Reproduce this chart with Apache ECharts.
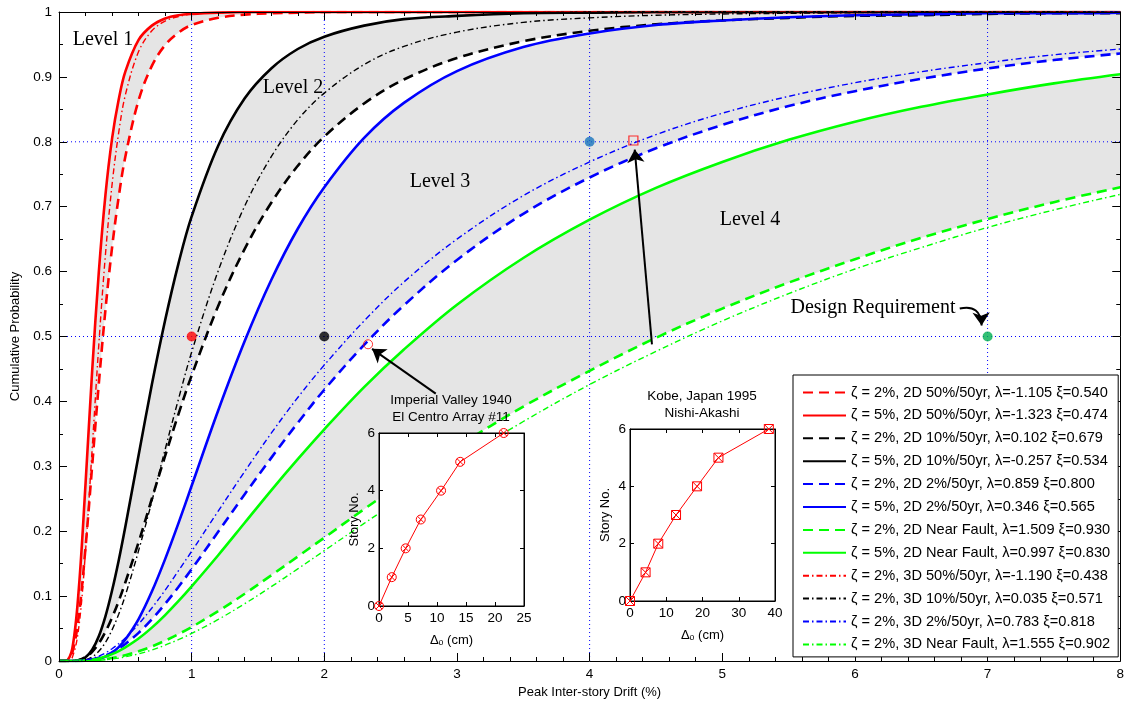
<!DOCTYPE html>
<html><head><meta charset="utf-8">
<script src="https://cdn.jsdelivr.net/npm/echarts@6/dist/echarts.min.js"></script>
<style>html,body{margin:0;padding:0;background:#fff}#c{width:1127px;height:704px}</style>
</head><body><div id="c"></div>
<script>
// ---------- data ----------
const drift = [0,0.05,0.1,0.15,0.2,0.25,0.3,0.35,0.4,0.45,0.5,0.6,0.7,0.8,0.9,1.0,1.2,1.4,1.6,1.8,2.0,2.3,2.6,3.0,3.5,4.0,4.5,5.0,5.5,6.0,6.5,7.0,7.5,8.0];
const red2D50z2 = [0,0.0002,0.013,0.071,0.175,0.301,0.427,0.541,0.637,0.715,0.777,0.864,0.917,0.949,0.968,0.980,0.991,0.996,0.998,0.999,1,1,1,1,1,1,1,1,1,1,1,1,1,1];
const red2D50z5 = [0,0.0002,0.019,0.113,0.273,0.447,0.599,0.718,0.805,0.865,0.908,0.957,0.979,0.990,0.995,0.997,0.999,1,1,1,1,1,1,1,1,1,1,1,1,1,1,1,1,1];
const blk2D10z2 = [0,0,0.0002,0.0016,0.0059,0.0142,0.0272,0.0449,0.0669,0.0923,0.121,0.183,0.250,0.316,0.380,0.440,0.547,0.635,0.706,0.763,0.808,0.859,0.896,0.929,0.955,0.971,0.981,0.987,0.991,0.994,0.995,0.997,0.998,0.998];
const blk2D10z5 = [0,0,0.0001,0.0011,0.0057,0.0173,0.0381,0.0688,0.1086,0.155,0.207,0.317,0.426,0.525,0.612,0.685,0.794,0.867,0.913,0.943,0.962,0.979,0.989,0.994,0.998,0.999,1,1,1,1,1,1,1,1];
const blu2D2z2 = [0,0,0,0.0003,0.001,0.0025,0.005,0.0085,0.0132,0.0191,0.0262,0.0434,0.0643,0.0881,0.114,0.1415,0.199,0.257,0.313,0.367,0.418,0.487,0.548,0.618,0.689,0.745,0.790,0.826,0.855,0.878,0.897,0.913,0.926,0.936];
const blu2D2z5 = [0,0,0,0,0.0003,0.0011,0.003,0.0067,0.0127,0.0213,0.033,0.0647,0.107,0.157,0.212,0.270,0.386,0.493,0.587,0.666,0.730,0.806,0.860,0.909,0.946,0.967,0.980,0.987,0.992,0.995,0.9965,0.998,0.998,0.999];
const grn2DNFz2 = [0,0,0,0.0001,0.0004,0.0009,0.0018,0.003,0.0046,0.0065,0.0089,0.0149,0.0224,0.0313,0.0414,0.0523,0.0768,0.1036,0.132,0.161,0.190,0.234,0.276,0.330,0.392,0.447,0.498,0.543,0.583,0.619,0.652,0.681,0.707,0.730];
const grn2DNFz5 = [0,0,0,0.0002,0.0008,0.002,0.004,0.0068,0.0106,0.0152,0.0209,0.0346,0.0514,0.0708,0.0921,0.115,0.163,0.213,0.263,0.311,0.357,0.422,0.480,0.549,0.621,0.680,0.729,0.769,0.803,0.831,0.854,0.873,0.890,0.904];
const red3D50 = [0,0,0.0055,0.053,0.169,0.327,0.487,0.626,0.734,0.814,0.872,0.939,0.971,0.986,0.993,0.997,0.999,1,1,1,1,1,1,1,1,1,1,1,1,1,1,1,1,1];
const blk3D10 = [0,0,0,0.0004,0.002,0.0064,0.015,0.0287,0.0479,0.072,0.101,0.170,0.246,0.326,0.403,0.476,0.601,0.701,0.777,0.834,0.875,0.919,0.947,0.969,0.984,0.991,0.995,0.997,0.998,0.999,0.9994,0.9996,0.9997,0.9998];
const blu3D2 = [0,0,0.0001,0.0005,0.0017,0.004,0.0076,0.0125,0.0189,0.0266,0.0356,0.0568,0.0817,0.109,0.139,0.169,0.231,0.292,0.351,0.406,0.456,0.524,0.584,0.650,0.717,0.769,0.811,0.844,0.870,0.891,0.908,0.922,0.934,0.943];
const grn3DNF = [0,0,0,0.0001,0.0002,0.0006,0.0011,0.0019,0.0031,0.0045,0.0064,0.011,0.017,0.0244,0.0329,0.0424,0.064,0.0883,0.1145,0.142,0.170,0.212,0.253,0.306,0.369,0.426,0.477,0.524,0.566,0.604,0.637,0.668,0.695,0.719];

const seriesNames = [
  'ζ = 2%, 2D 50%/50yr, λ=-1.105 ξ=0.540',
  'ζ = 5%, 2D 50%/50yr, λ=-1.323 ξ=0.474',
  'ζ = 2%, 2D 10%/50yr, λ=0.102 ξ=0.679',
  'ζ = 5%, 2D 10%/50yr, λ=-0.257 ξ=0.534',
  'ζ = 2%, 2D 2%/50yr, λ=0.859 ξ=0.800',
  'ζ = 5%, 2D 2%/50yr, λ=0.346 ξ=0.565',
  'ζ = 2%, 2D Near Fault, λ=1.509 ξ=0.930',
  'ζ = 5%, 2D Near Fault, λ=0.997 ξ=0.830',
  'ζ = 2%, 3D 50%/50yr, λ=-1.190 ξ=0.438',
  'ζ = 2%, 3D 10%/50yr, λ=0.035 ξ=0.571',
  'ζ = 2%, 3D 2%/50yr, λ=0.783 ξ=0.818',
  'ζ = 2%, 3D Near Fault, λ=1.555 ξ=0.902'
];

// reference (dotted) lines
const refX = [1, 2, 4, 7];
const refY = [0.5, 0.8];
// target points
const targetX = [1, 2, 4, 7];
const targetY = [0.5, 0.5, 0.8, 0.5];
// record points on the curves
const imperialPoint = [2.33, 0.488];
const kobePoint = [4.33, 0.802];

// inset data
const storyNo = [0, 1, 2, 3, 4, 5, 6];
const imperialDrift = [0, 2.2, 4.6, 7.2, 10.7, 14.0, 21.5];
const kobeDrift = [0, 4.3, 7.8, 12.7, 18.5, 24.4, 38.3];

// ---------- styles ----------
const curveData = [red2D50z2, red2D50z5, blk2D10z2, blk2D10z5, blu2D2z2, blu2D2z5, grn2DNFz2, grn2DNFz5, red3D50, blk3D10, blu3D2, grn3DNF];
const curveColor = ['#ff0000','#ff0000','#000000','#000000','#0000ff','#0000ff','#00ff00','#00ff00','#ff0000','#000000','#0000ff','#00ff00'];
const curveKind = ['dash','solid','dash','solid','dash','solid','dash','solid','dashdot','dashdot','dashdot','dashdot'];
const dashMap = {solid: 'solid', dash: [10, 6], dashdot: [6, 3, 1.5, 3]};
const widthMap = {solid: 2.6, dash: 2.6, dashdot: 1.4};
const GRAY = '#e5e5e5';
const bands = [[red2D50z5, GRAY], [red2D50z2, '#fff'], [blk2D10z5, GRAY], [blk2D10z2, '#fff'],
               [blu2D2z5, GRAY], [blu2D2z2, '#fff'], [grn2DNFz5, GRAY], [grn2DNFz2, '#fff']];
const targetColor = ['#ff0000', '#000000', '#1874bd', '#00b050'];

const mk = ys => drift.map((x, i) => [x, ys[i]]);
const SANS = '"Liberation Sans", Arial, Helvetica, sans-serif';
const SERIF = '"Liberation Serif", "Times New Roman", serif';
const SMOOTH = 0.35;

const series = [];
bands.forEach(([ys, c]) => series.push({
  type: 'line', xAxisIndex: 0, yAxisIndex: 0, data: mk(ys), smooth: SMOOTH,
  symbol: 'none', lineStyle: {width: 0}, areaStyle: {color: c, opacity: 1, origin: 'start'},
  z: 1, silent: true
}));
refX.forEach(v => series.push({
  type: 'line', xAxisIndex: 0, yAxisIndex: 0, data: [[v, 0], [v, 1]], symbol: 'none',
  lineStyle: {color: '#0000ff', width: 1, type: [1, 3]}, z: 2, silent: true
}));
refY.forEach(v => series.push({
  type: 'line', xAxisIndex: 0, yAxisIndex: 0, data: [[0, v], [8, v]], symbol: 'none',
  lineStyle: {color: '#0000ff', width: 1, type: [1, 3]}, z: 2, silent: true
}));
curveData.forEach((ys, i) => series.push({
  name: seriesNames[i], type: 'line', xAxisIndex: 0, yAxisIndex: 0, data: mk(ys),
  smooth: SMOOTH, symbol: 'none', showSymbol: false,
  lineStyle: {color: curveColor[i], width: widthMap[curveKind[i]], type: dashMap[curveKind[i]], cap: 'butt'},
  itemStyle: {color: curveColor[i]}, z: 3
}));
series.push({
  type: 'scatter', xAxisIndex: 0, yAxisIndex: 0, symbolSize: 10, z: 4, silent: true,
  data: targetX.map((x, i) => ({value: [x, targetY[i]], itemStyle: {color: targetColor[i]}}))
});
// annotation arrows (straight and curved)
series.push({
  type: 'lines', coordinateSystem: 'cartesian2d', xAxisIndex: 0, yAxisIndex: 0, z: 4, silent: true,
  symbol: ['none', 'arrow'], symbolSize: 13,
  lineStyle: {color: '#000', width: 2, opacity: 1, curveness: 0},
  data: [
    {coords: [[2.84, 0.412], [2.36, 0.481]]},
    {coords: [[4.47, 0.488], [4.34, 0.788]]},
    {coords: [[6.79, 0.543], [6.955, 0.517]], lineStyle: {curveness: 0.6}}
  ]
});
series.push({
  type: 'scatter', xAxisIndex: 0, yAxisIndex: 0, symbol: 'circle', symbolSize: 9, z: 4, silent: true,
  itemStyle: {color: 'rgba(0,0,0,0)', borderColor: '#ff0000', borderWidth: 1},
  data: [imperialPoint]
});
series.push({
  type: 'scatter', xAxisIndex: 0, yAxisIndex: 0, symbol: 'rect', symbolSize: 9, z: 4, silent: true,
  itemStyle: {color: 'rgba(0,0,0,0)', borderColor: '#ff0000', borderWidth: 1.2},
  data: [kobePoint]
});
// insets
const circX = 'path://M50,0A50,50 0 1,1 50,100A50,50 0 1,1 50,0ZM15,15L85,85M85,15L15,85';
const sqX = 'path://M0,0L100,0L100,100L0,100ZM0,0L100,100M100,0L0,100';
series.push({
  type: 'line', xAxisIndex: 2, yAxisIndex: 2, data: imperialDrift.map((x, i) => [x, storyNo[i]]),
  symbol: circX, symbolSize: 9, showSymbol: true,
  lineStyle: {color: '#ff0000', width: 1}, itemStyle: {color: 'rgba(0,0,0,0)', borderColor: '#ff0000', borderWidth: 1},
  z: 12, silent: true
});
series.push({
  type: 'line', xAxisIndex: 4, yAxisIndex: 4, data: kobeDrift.map((x, i) => [x, storyNo[i]]),
  symbol: sqX, symbolSize: 9, showSymbol: true,
  lineStyle: {color: '#ff0000', width: 1}, itemStyle: {color: 'rgba(0,0,0,0)', borderColor: '#ff0000', borderWidth: 1},
  z: 12, silent: true
});

const axLine = {show: true, onZero: false, lineStyle: {color: '#000', width: 1}};
function mainX(pos, labels) {
  return {
    type: 'value', gridIndex: 0, position: pos, min: 0, max: 8, interval: 1, z: 5,
    axisLine: axLine,
    axisTick: {show: true, inside: true, length: 8, lineStyle: {color: '#000'}},
    minorTick: {show: true, splitNumber: 5, length: 4, lineStyle: {color: '#000'}},
    axisLabel: {show: labels, color: '#000', fontSize: 13.5, fontFamily: SANS, margin: 6},
    splitLine: {show: false},
    name: labels ? 'Peak Inter-story Drift (%)' : '', nameLocation: 'middle', nameGap: 25,
    nameTextStyle: {color: '#000', fontSize: 13, fontFamily: SANS}
  };
}
function mainY(pos, labels) {
  return {
    type: 'value', gridIndex: 0, position: pos, min: 0, max: 1, interval: 0.1, z: 5,
    axisLine: axLine,
    axisTick: {show: true, inside: true, length: 8, lineStyle: {color: '#000'}},
    minorTick: {show: true, splitNumber: 2, length: 4, lineStyle: {color: '#000'}},
    axisLabel: {show: labels, color: '#000', fontSize: 13.5, fontFamily: SANS, margin: 7},
    splitLine: {show: false},
    name: labels ? 'Cumulative Probability' : '', nameLocation: 'middle', nameGap: 33,
    nameTextStyle: {color: '#000', fontSize: 13, fontFamily: SANS}
  };
}
function insetX(g, max, iv, pos, labels) {
  return {
    type: 'value', gridIndex: g, position: pos, min: 0, max: max, interval: iv, z: 11,
    axisLine: axLine,
    axisTick: {show: true, inside: true, length: 4, lineStyle: {color: '#000'}},
    axisLabel: {show: labels, color: '#000', fontSize: 13.5, fontFamily: SANS, margin: 5},
    splitLine: {show: false},
    name: labels ? 'Δₒ (cm)' : '', nameLocation: 'middle', nameGap: 28,
    nameTextStyle: {color: '#000', fontSize: 13, fontFamily: SANS}
  };
}
function insetY(g, pos, labels) {
  return {
    type: 'value', gridIndex: g, position: pos, min: 0, max: 6, interval: 2, z: 11,
    axisLine: axLine,
    axisTick: {show: true, inside: true, length: 4, lineStyle: {color: '#000'}},
    axisLabel: {show: labels, color: '#000', fontSize: 13.5, fontFamily: SANS, margin: 4},
    splitLine: {show: false},
    name: labels ? 'Story No.' : '', nameLocation: 'middle', nameGap: 18,
    nameTextStyle: {color: '#000', fontSize: 13, fontFamily: SANS}
  };
}

const text = (t, x, y, font, size) => ({
  type: 'text', x: x, y: y, z: 30, silent: true,
  style: {text: t, fill: '#000', fontFamily: font, fontSize: size, align: 'center', verticalAlign: 'middle'}
});

const option = {
  animation: false,
  backgroundColor: '#fff',
  grid: [
    {left: 59, right: 2, top: 12, bottom: 41, show: false},
    {left: 379, top: 433, width: 145, height: 173, show: true, backgroundColor: '#fff', borderColor: '#000', borderWidth: 1, z: 10},
    {left: 630, top: 429, width: 145, height: 172, show: true, backgroundColor: '#fff', borderColor: '#000', borderWidth: 1, z: 10}
  ],
  xAxis: [mainX('bottom', true), mainX('top', false),
          insetX(1, 25, 5, 'bottom', true), insetX(1, 25, 5, 'top', false),
          insetX(2, 40, 10, 'bottom', true), insetX(2, 40, 10, 'top', false)],
  yAxis: [mainY('left', true), mainY('right', false),
          insetY(1, 'left', true), insetY(1, 'right', false),
          insetY(2, 'left', true), insetY(2, 'right', false)],
  legend: {
    data: seriesNames, orient: 'vertical', left: 793, top: 375,
    itemWidth: 43, itemHeight: 14, itemGap: 7.9, padding: [10, 8, 5, 9],
    backgroundColor: '#fff', borderColor: '#000', borderWidth: 1, z: 20,
    itemStyle: {color: 'rgba(0,0,0,0)', borderColor: 'rgba(0,0,0,0)', borderWidth: 0, opacity: 0},
    textStyle: {color: '#000', fontSize: 14.6, fontFamily: SANS},
    selectedMode: false
  },
  graphic: [
    text('Level 1', 103, 40, SERIF, 20),
    text('Level 2', 293, 88, SERIF, 20),
    text('Level 3', 440, 182, SERIF, 20),
    text('Level 4', 750, 220, SERIF, 20),
    text('Design Requirement', 873, 308, SERIF, 20),
    text('Imperial Valley 1940', 451, 400, SANS, 13.5),
    text('El Centro Array #11', 451, 417, SANS, 13.5),
    text('Kobe, Japan 1995', 702, 396, SANS, 13.5),
    text('Nishi-Akashi', 702, 413, SANS, 13.5)
  ],
  series: series
};
const chart = echarts.init(document.getElementById('c'));
chart.setOption(option);
</script></body></html>
